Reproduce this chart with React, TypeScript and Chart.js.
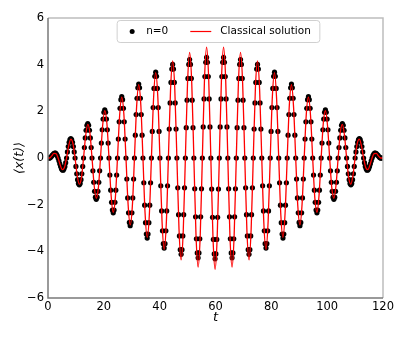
import React, { useEffect, useRef } from "react";
import { Chart, registerables } from "chart.js";

Chart.register(...registerables);

const FONT = "'DejaVu Sans', 'Liberation Sans', sans-serif";

const xTickValues = [0, 20, 40, 60, 80, 100, 120];
const yTickValues = [-6, -4, -2, 0, 2, 4, 6];
const seriesLabels = ["n=0", "Classical solution"];
const axisTitles = ["t", "\u27E8x(t)\u27E9"];

// n=0 samples: regular time grid
const dotStartT = 0.266;
const dotStepT = 0.304;
const dotValues = [
  -0.007, 0,
  0.02, 0.06, 0.11, 0.15, 0.19, 0.21, 0.21, 0.17, 0.1, 0,
  -0.12, -0.25, -0.36, -0.46, -0.51, -0.52, -0.46, -0.36, -0.2, 0,
  0.26, 0.49, 0.67, 0.79, 0.83, 0.79, 0.67, 0.49, 0.26, 0,
  -0.36, -0.68, -0.93, -1.09, -1.15, -1.09, -0.93, -0.68, -0.36, 0,
  0.45, 0.86, 1.19, 1.4, 1.47, 1.4, 1.19, 0.86, 0.45, 0,
  -0.55, -1.04, -1.43, -1.68, -1.77, -1.68, -1.43, -1.04, -0.55, 0,
  0.64, 1.21, 1.67, 1.96, 2.06, 1.96, 1.67, 1.21, 0.64, 0,
  -0.73, -1.38, -1.9, -2.23, -2.35, -2.23, -1.9, -1.38, -0.73, 0,
  0.81, 1.55, 2.13, 2.5, 2.63, 2.5, 2.13, 1.55, 0.81, 0,
  -0.9, -1.71, -2.35, -2.76, -2.9, -2.76, -2.35, -1.71, -0.9, 0,
  0.98, 1.86, 2.56, 3.01, 3.17, 3.01, 2.56, 1.86, 0.98, 0,
  -1.06, -2.02, -2.77, -3.26, -3.43, -3.26, -2.77, -2.02, -1.06, 0,
  1.14, 2.16, 2.98, 3.5, 3.68, 3.5, 2.98, 2.16, 1.14, 0,
  -1.19, -2.27, -3.12, -3.67, -3.86, -3.67, -3.12, -2.27, -1.19, 0,
  1.24, 2.36, 3.24, 3.81, 4.01, 3.81, 3.24, 2.36, 1.24, 0,
  -1.28, -2.43, -3.34, -3.93, -4.13, -3.93, -3.34, -2.43, -1.28, 0,
  1.3, 2.48, 3.41, 4.01, 4.22, 4.01, 3.41, 2.48, 1.3, 0,
  -1.32, -2.52, -3.46, -4.07, -4.28, -4.07, -3.46, -2.52, -1.32, 0,
  1.33, 2.53, 3.49, 4.1, 4.31, 4.1, 3.49, 2.53, 1.33, 0,
  -1.33, -2.54, -3.49, -4.11, -4.32, -4.11, -3.49, -2.54, -1.33,
  0, 1.33, 2.53, 3.49, 4.1, 4.31, 4.1, 3.49, 2.53, 1.33,
  0, -1.32, -2.52, -3.46, -4.07, -4.28, -4.07, -3.46, -2.52, -1.32,
  0, 1.3, 2.48, 3.41, 4.01, 4.22, 4.01, 3.41, 2.48, 1.3,
  0, -1.28, -2.43, -3.34, -3.93, -4.13, -3.93, -3.34, -2.43, -1.28,
  0, 1.24, 2.36, 3.24, 3.81, 4.01, 3.81, 3.24, 2.36, 1.24,
  0, -1.19, -2.27, -3.12, -3.67, -3.86, -3.67, -3.12, -2.27, -1.19,
  0, 1.14, 2.16, 2.98, 3.5, 3.68, 3.5, 2.98, 2.16, 1.14,
  0, -1.06, -2.02, -2.77, -3.26, -3.43, -3.26, -2.77, -2.02, -1.06,
  0, 0.98, 1.86, 2.56, 3.01, 3.17, 3.01, 2.56, 1.86, 0.98,
  0, -0.9, -1.71, -2.35, -2.76, -2.9, -2.76, -2.35, -1.71, -0.9,
  0, 0.81, 1.55, 2.13, 2.5, 2.63, 2.5, 2.13, 1.55, 0.81,
  0, -0.73, -1.38, -1.9, -2.23, -2.35, -2.23, -1.9, -1.38, -0.73,
  0, 0.64, 1.21, 1.67, 1.96, 2.06, 1.96, 1.67, 1.21, 0.64,
  0, -0.55, -1.04, -1.43, -1.68, -1.77, -1.68, -1.43, -1.04, -0.55,
  0, 0.45, 0.86, 1.19, 1.4, 1.47, 1.4, 1.19, 0.86, 0.45,
  0, -0.36, -0.68, -0.93, -1.09, -1.15, -1.09, -0.93, -0.68, -0.36,
  0, 0.26, 0.49, 0.67, 0.79, 0.83, 0.79, 0.67, 0.49, 0.26,
  0, -0.2, -0.36, -0.46, -0.52, -0.51, -0.46, -0.36, -0.25, -0.12,
  0, 0.1, 0.17, 0.21, 0.21, 0.19, 0.15, 0.11, 0.06, 0.02,
  0, -0.007, 0,
];

// classical solution: regular time grid plus the two ends
const classicalStartT = 0.57;
const classicalStepT = 0.76;
const classicalValues = [
  0, 0.09, 0.2, 0.19, 0, -0.3, -0.5, -0.41,
  0, 0.52, 0.81, 0.63, 0, -0.74, -1.12, -0.85,
  0, 0.96, 1.44, 1.07, 0, -1.17, -1.73, -1.27,
  0, 1.38, 2.03, 1.49, 0, -1.6, -2.33, -1.7,
  0, 1.8, 2.61, 1.89, 0, -1.98, -2.87, -2.07,
  0, 2.17, 3.14, 2.27, 0, -2.36, -3.4, -2.45,
  0, 2.54, 3.66, 2.63, 0, -2.72, -3.92, -2.82,
  0, 2.9, 4.16, 2.98, 0, -3.05, -4.37, -3.12,
  0, 3.18, 4.53, 3.23, 0, -3.28, -4.68, -3.32,
  0, 3.35, 4.75, 3.36, 0, -3.37,
  -4.77,
  -3.37, 0, 3.36, 4.75, 3.35, 0,
  -3.32, -4.68, -3.28, 0, 3.23, 4.53, 3.18, 0,
  -3.12, -4.37, -3.05, 0, 2.98, 4.16, 2.9, 0,
  -2.82, -3.92, -2.72, 0, 2.63, 3.66, 2.54, 0,
  -2.45, -3.4, -2.36, 0, 2.27, 3.14, 2.17, 0,
  -2.07, -2.87, -1.98, 0, 1.89, 2.61, 1.8, 0,
  -1.7, -2.33, -1.6, 0, 1.49, 2.03, 1.38, 0,
  -1.27, -1.73, -1.17, 0, 1.07, 1.44, 0.96, 0,
  -0.85, -1.12, -0.74, 0, 0.63, 0.81, 0.52, 0,
  -0.41, -0.5, -0.3, 0, 0.19, 0.2, 0.09, 0,
];
const classicalEdgeT = [0, 120];
const classicalEdgeValues = [0, 0];

const framePlugin = {
  id: "frame",
  afterDatasetsDraw(chart: any) {
    const { ctx, chartArea: a } = chart;
    ctx.save();
    ctx.lineWidth = 1.5;
    ctx.strokeStyle = "#bdbdbd";
    ctx.beginPath();
    ctx.moveTo(a.left, a.top);
    ctx.lineTo(a.right, a.top);
    ctx.lineTo(a.right, a.bottom);
    ctx.stroke();
    ctx.strokeStyle = "#7a7a7a";
    ctx.beginPath();
    ctx.moveTo(a.left, a.top);
    ctx.lineTo(a.left, a.bottom);
    ctx.lineTo(a.right, a.bottom);
    ctx.stroke();
    ctx.restore();
  },
};

const legendPlugin = {
  id: "insideLegend",
  afterDraw(chart: any) {
    const { ctx, chartArea: a } = chart;
    const ds = chart.data.datasets;
    ctx.save();
    ctx.font = `10.5px ${FONT}`;
    const w0 = ctx.measureText(ds[0].label).width;
    const w1 = ctx.measureText(ds[1].label).width;
    const boxW = 29 + w0 + 22 + 21 + 9 + w1 + 9;
    const boxH = 22;
    const cx = (a.left + a.right) / 2 + 3;
    const bx = cx - boxW / 2;
    const by = a.top + 2.5;
    const my = by + boxH / 2;
    ctx.fillStyle = "rgba(255,255,255,0.85)";
    ctx.strokeStyle = "#d0d0d0";
    ctx.lineWidth = 1;
    ctx.beginPath();
    if (ctx.roundRect) ctx.roundRect(bx, by, boxW, boxH, 3);
    else ctx.rect(bx, by, boxW, boxH);
    ctx.fill();
    ctx.stroke();
    ctx.fillStyle = "#000";
    ctx.beginPath();
    ctx.arc(bx + 15, my, 2.5, 0, Math.PI * 2);
    ctx.fill();
    ctx.textBaseline = "middle";
    ctx.textAlign = "left";
    ctx.fillText(ds[0].label, bx + 29, my);
    const m2 = bx + 29 + w0 + 22;
    ctx.strokeStyle = "#ff0000";
    ctx.lineWidth = 1.2;
    ctx.beginPath();
    ctx.moveTo(m2, my);
    ctx.lineTo(m2 + 21, my);
    ctx.stroke();
    ctx.fillStyle = "#000";
    ctx.fillText(ds[1].label, m2 + 30, my);
    ctx.restore();
  },
};

export default function App() {
  const ref = useRef<HTMLCanvasElement | null>(null);

  useEffect(() => {
    const canvas = ref.current;
    if (!canvas) return;
    const dotData = dotValues.map((y, i) => ({ x: dotStartT + i * dotStepT, y }));
    const classicalData = [
      { x: classicalEdgeT[0], y: classicalEdgeValues[0] },
      ...classicalValues.map((y, i) => ({ x: classicalStartT + i * classicalStepT, y })),
      { x: classicalEdgeT[1], y: classicalEdgeValues[1] },
    ];
    const tickFont = { family: FONT, size: 11.5 };
    const chart = new Chart(canvas, {
      type: "line",
      data: {
        datasets: [
          {
            label: seriesLabels[0],
            data: dotData,
            showLine: false,
            pointRadius: 2.6,
            pointBackgroundColor: "#000",
            pointBorderWidth: 0,
            pointBorderColor: "#000",
            order: 2,
          },
          {
            label: seriesLabels[1],
            data: classicalData,
            borderColor: "#ff0000",
            borderWidth: 1.3,
            pointRadius: 0,
            fill: false,
            cubicInterpolationMode: "monotone",
            order: 1,
          },
        ],
      },
      options: {
        responsive: false,
        maintainAspectRatio: false,
        animation: false,
        events: [],
        layout: { padding: { left: 0, right: 26, top: 18, bottom: 0 } },
        plugins: {
          legend: { display: false },
          tooltip: { enabled: false },
          title: { display: false },
        },
        scales: {
          x: {
            type: "linear",
            min: xTickValues[0],
            max: xTickValues[xTickValues.length - 1],
            afterBuildTicks: (s: any) => {
              s.ticks = xTickValues.map((v) => ({ value: v }));
            },
            afterFit: (s: any) => {
              s.height = 43;
            },
            grid: { display: false, drawTicks: false },
            border: { display: false },
            ticks: {
              color: "#000",
              font: tickFont,
              padding: 2.5,
              maxRotation: 0,
              autoSkip: false,
            },
            title: {
              display: true,
              text: axisTitles[0],
              color: "#000",
              font: { family: FONT, size: 13, style: "italic" },
              padding: { top: 0, bottom: 16 },
            },
          },
          y: {
            type: "linear",
            min: yTickValues[0],
            max: yTickValues[yTickValues.length - 1],
            afterBuildTicks: (s: any) => {
              s.ticks = yTickValues.map((v) => ({ value: v }));
            },
            afterFit: (s: any) => {
              s.width = 48;
            },
            grid: { display: false, drawTicks: false },
            border: { display: false },
            ticks: {
              color: "#000",
              font: tickFont,
              padding: 4,
              autoSkip: false,
              callback: (v: any) => (Number(v) < 0 ? "\u2212" + Math.abs(Number(v)) : String(v)),
            },
            title: {
              display: true,
              text: axisTitles[1],
              color: "#000",
              font: { family: FONT, size: 12.5, style: "italic" },
              padding: { top: 12.5, bottom: 0 },
            },
          },
        },
      },
      plugins: [framePlugin, legendPlugin],
    } as any);
    return () => chart.destroy();
  }, []);

  return (
    <div style={{ position: "absolute", left: 0, top: 0, width: 409, height: 341, background: "#fff" }}>
      <canvas ref={ref} width={409} height={341} style={{ display: "block", width: 409, height: 341 }} />
    </div>
  );
}
